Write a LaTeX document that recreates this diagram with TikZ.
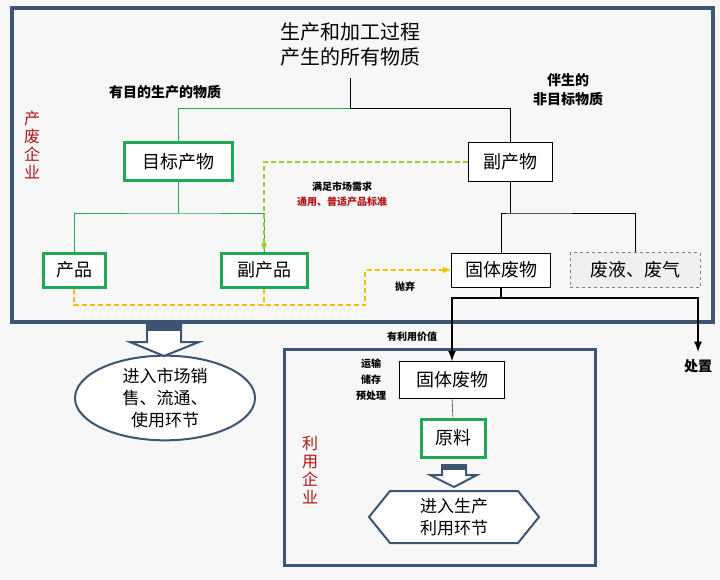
\documentclass[tikz,border=0pt]{standalone}
\usepackage{fontspec}
\setmainfont{Noto Sans CJK SC}
\usetikzlibrary{positioning,shapes.geometric}
\definecolor{frame}{HTML}{3D5573}
\definecolor{tgreen}{HTML}{1FA855}
\definecolor{dgreen}{HTML}{9ACD32}
\definecolor{dyellow}{HTML}{F2C200}
\definecolor{dred}{HTML}{B01515}
\tikzset{
  box/.style={draw,thin,fill=white,inner sep=3pt,font=\fontsize{18}{20}\selectfont},
  gbox/.style={draw=tgreen,line width=3pt,fill=white,inner sep=4pt,font=\fontsize{18}{20}\selectfont},
  note/.style={font=\fontsize{11}{14}\selectfont,align=center},
  side/.style={text=dred,font=\fontsize{16}{18}\selectfont,align=center},
  hollow/.style={draw=frame,line width=2pt,fill=white},
  flow/.style={line width=1.8pt,dash pattern=on 5pt off 3pt},
}
\begin{document}
\begin{tikzpicture}[x=1pt,y=-1pt]
  \useasboundingbox[fill=gray!6] (0,0) rectangle (720,580);
  \draw[frame,line width=3.5pt] (12,8) rectangle (713,322);
  \draw[frame,line width=3pt] (284,349) rectangle (595,565);
  % top level
  \node[align=center,font=\fontsize{20}{25}\selectfont] (all) at (350,44) {生产和加工过程\\产生的所有物质};
  \node[note,font=\fontsize{14}{16}\selectfont\bfseries] (aim) at (165,92) {有目的生产的物质};
  \node[note,font=\fontsize{14}{19}\selectfont\bfseries] (non) at (568,90) {伴生的\\非目标物质};
  \node[side] (prod) at (32,145) {产\\废\\企\\业};
  \node[side] (use) at (310,470) {利\\用\\企\\业};
  % boxes
  \node[gbox,minimum width=108pt,minimum height=38pt] (target) at (178,162) {目标产物};
  \node[box,minimum width=84pt,minimum height=39pt] (byp) at (510,162) {副产物};
  \node[gbox,minimum width=62pt,minimum height=34pt] (goods) at (74,270) {产品};
  \node[gbox,minimum width=86pt,minimum height=34pt] (bygoods) at (264,270) {副产品};
  \node[box,minimum width=99pt,minimum height=34pt] (solid) at (501,270) {固体废物};
  \node[box,draw=gray,dashed,fill=gray!12,minimum width=130pt,minimum height=35pt] (liquid) at (635,270) {废液、废气};
  \node[box,minimum width=105pt,minimum height=37pt] (solid2) at (452,380) {固体废物};
  \node[gbox,minimum width=64pt,minimum height=38pt] (raw) at (453,438) {原料};
  \node[ellipse,draw=frame,line width=2pt,fill=white,align=center,minimum width=180pt,minimum height=84pt,inner sep=0pt,font=\fontsize{17}{22}\selectfont] (market) at (165,398) {进入市场销\\售、流通、\\使用环节};
  \coordinate (hx) at (454,517);
  \draw[frame,line width=2pt,fill=white] (369,517) -- (390,491) -- (518,491) -- (539,517) -- (518,543) -- (390,543) -- cycle;
  \node[align=center,font=\fontsize{17}{22}\selectfont] (enter) at (hx) {进入生产\\利用环节};
  % tree connectors
  \draw (all.south) ++(0,9) coordinate (t0) -- (350,108) -| (byp.north);
  \draw[tgreen,thick] (350,108) -| (target.north);
  \draw[tgreen,thick] (target.south) -- (178,213) coordinate (t1);
  \draw[tgreen,thick] (goods.north) |- (t1) -| (bygoods.north);
  \draw (byp.south) -- (510,213) coordinate (t2);
  \draw (solid.north) |- (t2) -| (liquid.north);
  \draw (solid2.south) -- (raw.north);
  % dashed flows
  \draw[dgreen,flow,-latex] (byp.west) -| (bygoods.north);
  \node[note,font=\fontsize{10}{15}\selectfont\bfseries] (need) at (342,194) {满足市场需求\\\textcolor{dred}{通用、普适产品标准}};
  \draw[dyellow,flow,-latex] (goods.south) |- (365,305) |- (solid.west);
  \draw[dyellow,flow] (bygoods.south) -- (264,305);
  \node[note,font=\fontsize{10}{12}\selectfont\bfseries] (throw) at (405,287) {抛弃};
  % solid waste routes
  \draw[line width=2.5pt] (solid.south) -- (501,298) coordinate (t3);
  \draw[line width=2.5pt,-latex] (t3) -| (solid2.north);
  \draw[line width=2.5pt,-latex] (t3) -| (698,352) coordinate (t4);
  \node[note,font=\fontsize{14}{16}\selectfont\bfseries,below=4pt of t4] (dispose) {处置};
  \node[note,font=\fontsize{10}{12}\selectfont\bfseries] (value) at (412,337) {有利用价值};
  \node[note,font=\fontsize{10}{16}\selectfont\bfseries] (trans) at (371,380) {运输\\储存\\预处理};
  % hollow arrows
  \draw[hollow] (147,325) -- (181,325) -- (181,342) -- (199,342) -- (164,356) -- (130,342) -- (147,342) -- cycle;
  \fill[frame] (147,325) rectangle (181,331);
  \draw[hollow] (442,465) -- (466,465) -- (466,475) -- (477,475) -- (454,487) -- (430,475) -- (442,475) -- cycle;
  \fill[frame] (442,465) rectangle (466,470);
\end{tikzpicture}
\end{document}
